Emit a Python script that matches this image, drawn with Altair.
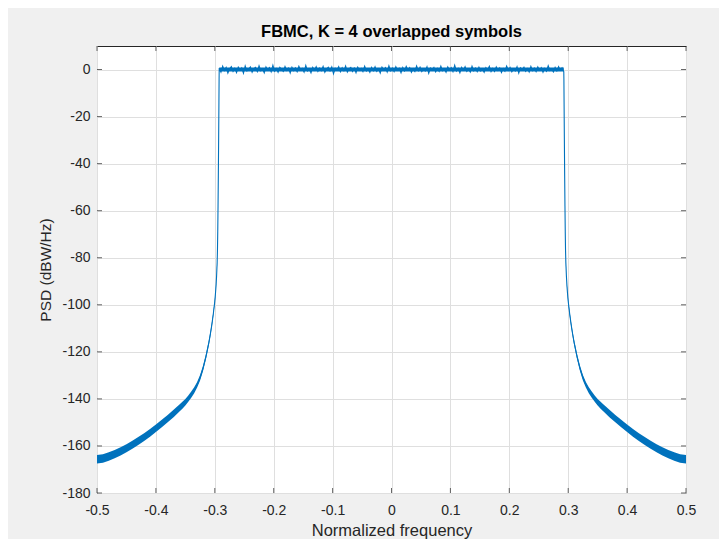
import altair as alt
import numpy as np
import pandas as pd

# ---------------- data ----------------
x_ticks = [-0.5, -0.4, -0.3, -0.2, -0.1, 0, 0.1, 0.2, 0.3, 0.4, 0.5]
y_ticks = [-180, -160, -140, -120, -100, -80, -60, -40, -20, 0]

# left tail (right tail is its mirror image), normalized frequency / dB
tail_f = [-0.5, -0.49, -0.48, -0.47, -0.46, -0.45, -0.44, -0.43, -0.42, -0.41,
          -0.40, -0.39, -0.38, -0.37, -0.36, -0.355, -0.35, -0.345, -0.34, -0.335,
          -0.33, -0.325, -0.32, -0.315, -0.31, -0.3075, -0.305, -0.3025, -0.30,
          -0.299, -0.298, -0.297, -0.296, -0.2955, -0.295, -0.2945, -0.294,
          -0.2935, -0.293, -0.2927]
tail_db = [-165.7, -165.3, -164.5, -163.5, -162.3, -161.0, -159.5, -157.9, -156.2, -154.4,
           -152.5, -150.5, -148.4, -146.2, -143.9, -142.7, -141.4, -139.9, -138.2, -136.3,
           -134.0, -131.0, -127.0, -122.0, -116.0, -112.4, -108.4, -103.8, -98.5,
           -95.6, -92.3, -88.0, -82.0, -77.0, -69.0, -58.0, -45.0,
           -30.0, -14.0, -4.0]
# half thickness of the oscillating tail band (dB)
tail_spread = [1.8, 1.8, 1.8, 1.75, 1.75, 1.7, 1.7, 1.7, 1.65, 1.65,
               1.6, 1.6, 1.55, 1.55, 1.5, 1.45, 1.4, 1.35, 1.3, 1.25,
               1.2, 1.15, 1.1, 1.05, 1.0, 0.95, 0.9, 0.85, 0.8,
               0.7, 0.6, 0.5, 0.4, 0.3, 0.2, 0.0, 0.0,
               0.0, 0.0, 0.0]

# in-band ripple (dB) across the flat part
flat_db = [0.6, -1.1, 1.4, -0.4, 0.9, -1.5, 0.3, 1.2, -0.8, 0.5,
           -1.3, 1.0, -0.2, 0.7, -1.6, 1.5, -0.6, 0.2, 1.1, -1.2,
           0.4, 0.9, -0.9, 1.6, -0.5, 0.3, -1.4, 1.1, -0.2, 0.8,
           -1.0, 1.8, -0.7, 0.4, -1.2, 0.9, 0.1, -0.8, 1.3, -0.4,
           0.6, -1.5, 1.0, -0.5, 0.7, -0.9, 1.4, -0.2, 0.5, -1.1,
           1.7, -0.6, 0.3, -1.4, 0.9, -0.3, 1.2, -0.8, 0.6, -0.5,
           1.3, -1.2, 0.2, 1.0, -0.6, 1.1, -1.8, 0.5, -0.2, 1.2,
           -0.9, 0.8, -0.5, 1.5, -1.1, 0.3, 0.9, -0.8, 0.6, -1.4,
           1.0, -0.3, 0.5, -0.9, 1.4, -0.6, 0.2, -1.2, 0.9, -0.5,
           1.2, -0.8, 0.3, -1.5, 1.0, -0.2, 0.8, -1.1, 1.6, -0.5,
           0.6, -0.9, 1.2, -0.3, 0.5, -1.4, 0.9, -0.6, 1.3, -0.2,
           0.8, -1.2, 0.3, -0.8, 1.5, -0.5, 1.0, -0.9, 0.2, -0.6,
           1.2, -1.6, 0.6, -0.3, 0.9, -1.0, 0.5, -0.8, 1.4, -0.5,
           0.3, -1.2, 1.1, -0.2, 0.8, -0.9, 1.8, -0.6, 0.5, -1.4,
           0.9, -0.3, 1.2, -0.8, 0.2, -1.1, 1.4, -0.5, 0.6, -0.9,
           1.0, -0.6, 0.3, -1.2, 0.8, -0.2, 1.4, -0.9, 0.5, -0.8,
           1.1, -0.4, 0.7, -1.3, 0.4, -0.7, 1.5, -0.3, 0.9, -1.0,
           0.2, -0.6, 1.2, -1.5, 0.7, -0.2, 1.0, -0.8, 0.4, -1.1,
           1.3, -0.5, 0.6, -0.9, 1.1, -0.3, 0.8, -1.2, 0.5, -0.7,
           1.6, -0.4, 0.3, -1.0, 0.9, -0.6, 1.2, -0.3, 0.7, -0.9]
flat_start, flat_end = -0.2925, 0.2925
# dense core of the in-band ripple (dB)
flat_core_lo = [-0.8, -0.8]
flat_core_hi = [0.9, 0.9]

# ---------------- build tables ----------------
W, H = 589, 447
BLUE = "#0072BD"
AX = "#262626"
FONT = "Liberation Sans"

flat_f = list(np.linspace(flat_start, flat_end, len(flat_db)))
right_f = [-v for v in reversed(tail_f)]
right_db = list(reversed(tail_db))

line_df = pd.DataFrame({
    "f": tail_f + flat_f + right_f,
    "db": tail_db + flat_db + right_db,
})

n = len(tail_f)
band_df = pd.DataFrame({
    "f": tail_f + [-v for v in tail_f] + [flat_start, flat_end],
    "lo": [d - s for d, s in zip(tail_db, tail_spread)] * 2 + flat_core_lo,
    "hi": [d + s for d, s in zip(tail_db, tail_spread)] * 2 + flat_core_hi,
    "side": ["L"] * n + ["R"] * n + ["C", "C"],
})

xs = alt.Scale(domain=[-0.5, 0.5], nice=False, zero=False)
ys = alt.Scale(domain=[-180, 10], nice=False, zero=False)

x_axis = alt.Axis(values=x_ticks, labelExpr="toString(datum.value)", tickSize=0,
                  labelPadding=10, labelFlush=False, domain=False, grid=True,
                  title="Normalized frequency", titlePadding=5, titleFontSize=16.5)
y_axis = alt.Axis(values=y_ticks, labelExpr="toString(datum.value)", tickSize=0,
                  labelPadding=7, labelFlush=False, domain=False, grid=True,
                  title="PSD (dBW/Hz)", titlePadding=8, titleFontSize=15.5)

band = alt.Chart(band_df).mark_area(color=BLUE, opacity=1).encode(
    x=alt.X("f:Q", scale=xs, axis=x_axis),
    y=alt.Y("lo:Q", scale=ys, axis=y_axis),
    y2="hi:Q",
    detail="side:N",
)

line = alt.Chart(line_df).mark_line(color=BLUE, strokeWidth=1.1).encode(
    x=alt.X("f:Q", scale=xs),
    y=alt.Y("db:Q", scale=ys),
)

xt_df = pd.DataFrame({"f": x_ticks})
yt_df = pd.DataFrame({"db": y_ticks})

tick_b = alt.Chart(xt_df).mark_tick(orient="vertical", size=5, thickness=1, color=AX).encode(
    x=alt.X("f:Q", scale=xs), y=alt.value(H - 2.5))
tick_t = alt.Chart(xt_df).mark_tick(orient="vertical", size=5, thickness=1, color=AX).encode(
    x=alt.X("f:Q", scale=xs), y=alt.value(2.5))
tick_l = alt.Chart(yt_df).mark_tick(orient="horizontal", size=5, thickness=1, color=AX).encode(
    y=alt.Y("db:Q", scale=ys), x=alt.value(2.5))
tick_r = alt.Chart(yt_df).mark_tick(orient="horizontal", size=5, thickness=1, color=AX).encode(
    y=alt.Y("db:Q", scale=ys), x=alt.value(W - 2.5))

chart = alt.layer(band, line, tick_b, tick_t, tick_l, tick_r).properties(
    width=W, height=H,
    autosize="none",
    padding={"left": 89, "top": 38, "right": 33, "bottom": 46},
    background="#f0f0f0",
    title=alt.TitleParams("FBMC, K = 4 overlapped symbols", fontSize=16.5, fontWeight="bold",
                          font=FONT, color="#000000", anchor="middle", offset=6),
).configure_view(
    fill="white", stroke=AX, strokeWidth=1,
).configure_axis(
    labelFont=FONT, labelFontSize=14, labelColor=AX,
    titleFont=FONT, titleColor=AX, titleFontWeight="normal",
    gridColor="#dfdfdf", gridWidth=1,
)

chart.save("out.html", embed_options={"renderer": "svg", "actions": False})
